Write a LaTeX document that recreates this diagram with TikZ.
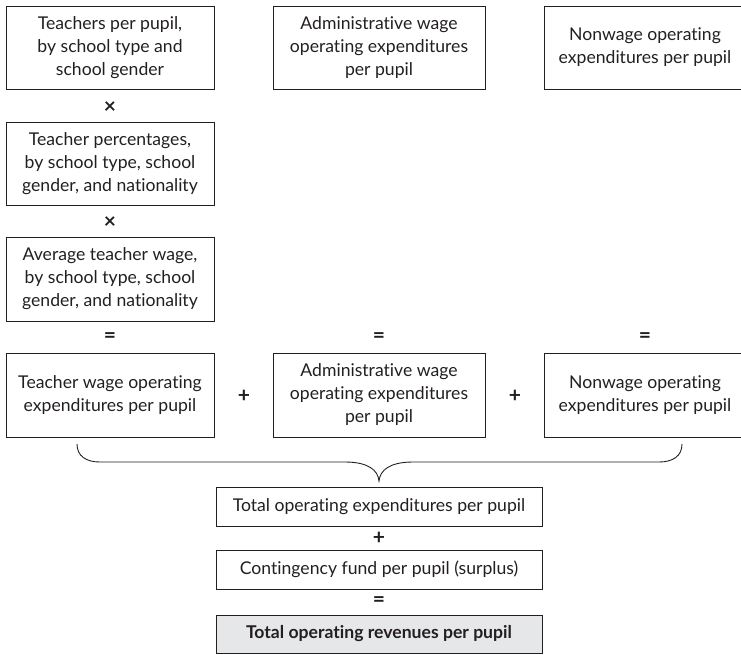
\documentclass[tikz,border=0pt]{standalone}
\usepackage{fontspec}
\setmainfont{Lato}[Ligatures={NoCommon}]
\definecolor{ink}{HTML}{231F20}
\definecolor{shade}{HTML}{E6E7E8}
\begin{document}
\begin{tikzpicture}[x=1pt,y=-1pt,
  every node/.style={text=ink},
  box/.style={draw=ink,line width=0.9pt,rectangle,inner sep=0pt,align=center,
    font=\fontsize{17.6}{23}\selectfont},
  op/.style={font=\fontsize{21}{21}\selectfont\bfseries,inner sep=0pt}]
\useasboundingbox (0,0) rectangle (741,654);
% column 1
\node[box,minimum width=208pt,minimum height=83pt] (tpp) at (110,47.5) {Teachers per pupil,\\by school type and\\school gender};
\node[box,minimum width=208pt,minimum height=83pt] (tpc) at (110,163.5) {Teacher percentages,\\by school type, school\\gender, and nationality};
\node[box,minimum width=208pt,minimum height=84pt] (atw) at (110,279) {Average teacher wage,\\by school type, school\\gender, and nationality};
\node[box,minimum width=208pt,minimum height=84pt] (twe) at (110,395) {Teacher wage operating\\expenditures per pupil};
% column 2
\node[box,minimum width=212pt,minimum height=83pt] (awt) at (379,47.5) {Administrative wage\\operating expenditures\\per pupil};
\node[box,minimum width=212pt,minimum height=84pt] (awe) at (379,395) {Administrative wage\\operating expenditures\\per pupil};
% column 3
\node[box,minimum width=202pt,minimum height=83pt] (nwt) at (645,47.5) {Nonwage operating\\expenditures per pupil};
\node[box,minimum width=202pt,minimum height=84pt] (nwe) at (645,395) {Nonwage operating\\expenditures per pupil};
% operators
\node[op] (x1) at (110,108) {×};
\node[op] (x2) at (110,223) {×};
\node[op] (e1) at (110,338) {=};
\node[op] (e2) at (379,338) {=};
\node[op] (e3) at (645,338) {=};
\node[op] (p1) at (244,396) {+};
\node[op] (p2) at (515,396) {+};
% brace
\coordinate (bl) at (77,444);
\coordinate (br) at (682,444);
\coordinate (tip) at (379,481);
\draw[ink,line width=0.9pt] (bl) .. controls (77,456) and (86,462) .. (100,462)
  -- (345,462) .. controls (368,462) and (378,470) .. (tip)
  .. controls (380,470) and (390,462) .. (413,462)
  -- (659,462) .. controls (673,462) and (682,456) .. (br);
% bottom column
\node[box,minimum width=326pt,minimum height=39pt] (toe) at (379,506.5) {Total operating expenditures per pupil};
\node[op] (p3) at (379,538) {+};
\node[box,minimum width=326pt,minimum height=39pt] (cf) at (379,569.5) {Contingency fund per pupil (surplus)};
\node[op] (e4) at (379,602) {=};
\node[box,fill=shade,minimum width=326pt,minimum height=38pt,font=\fontsize{17.6}{23}\selectfont\bfseries] (tor) at (379,634) {Total operating revenues per pupil};
\end{tikzpicture}
\end{document}
